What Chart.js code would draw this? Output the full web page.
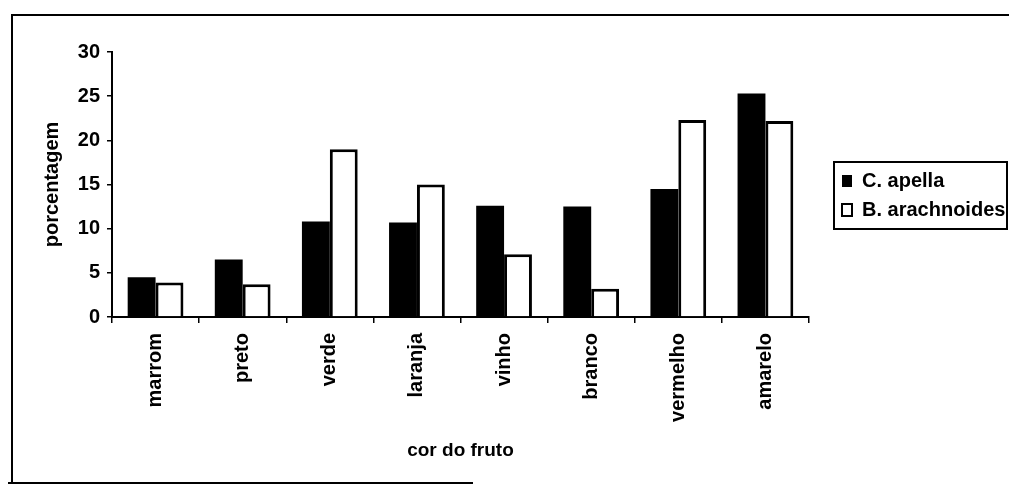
<!DOCTYPE html>
<html>
<head>
<meta charset="utf-8">
<script src="https://cdn.jsdelivr.net/npm/chart.js@4/dist/chart.umd.min.js"></script>
<style>
  html, body { margin: 0; padding: 0; background: #fff; }
  #wrap { position: relative; width: 1009px; height: 490px; }
  #frame {
    position: absolute; left: 11px; top: 14px; width: 1000px; height: 468px;
    border-left: 2px solid #000; border-top: 2px solid #000;
  }
  #frameBottom {
    position: absolute; left: 8px; top: 482px; width: 465px; height: 0;
    border-top: 2px solid #000;
  }
  canvas { position: absolute; left: 0; top: 0; }
</style>
</head>
<body>
<div id="wrap">
  <div id="frame"></div>
  <div id="frameBottom"></div>
  <canvas id="chart" width="1009" height="490"></canvas>
</div>
<script>
const categories = ["marrom", "preto", "verde", "laranja", "vinho", "branco", "vermelho", "amarelo"];
const apella = [4.5, 6.5, 10.8, 10.7, 12.6, 12.5, 14.5, 25.3];
const arachnoides = [3.9, 3.7, 19.0, 15.0, 7.1, 3.2, 22.3, 22.2];
const yTicks = [0, 5, 10, 15, 20, 25, 30];

const FONT = "'Liberation Sans', Arial, sans-serif";
const font = { family: FONT, size: 20, weight: "bold" };

// legend width is needed to put the right edge of the plot where the reference has it
const mctx = document.createElement("canvas").getContext("2d");
mctx.font = "bold 20px " + FONT;
const legendPad = 9;
const legendWidth = legendPad * 2 + 10 + 10 + mctx.measureText("B. arachnoides").width;
const plotRight = 810;

const legendFrame = {
  id: "legendFrame",
  beforeDraw(chart) {
    const lg = chart.legend;
    const w = lg.width;
    lg.left = chart.chartArea.right + 24;
    lg.right = lg.left + w;
    lg.top = 162;
  },
  afterDraw(chart) {
    const lg = chart.legend;
    const ctx = chart.ctx;
    const h = lg.columnSizes[0].height + legendPad;
    ctx.save();
    ctx.strokeStyle = "#000";
    ctx.lineWidth = 2;
    ctx.strokeRect(lg.left + 1, lg.top, chart.width - lg.left - 3, h);
    ctx.restore();
  }
};

new Chart(document.getElementById("chart"), {
  type: "bar",
  data: {
    labels: categories,
    datasets: [
      {
        label: "C. apella",
        data: apella,
        backgroundColor: "#000",
        borderColor: "#000",
        borderWidth: 0
      },
      {
        label: "B. arachnoides",
        data: arachnoides,
        backgroundColor: "#fff",
        borderColor: "#000",
        borderWidth: 3
      }
    ]
  },
  options: {
    animation: false,
    responsive: false,
    categoryPercentage: 0.64,
    barPercentage: 1.0,
    layout: {
      padding: { left: 36, top: 52, right: Math.max(0, 1009 - plotRight - legendWidth), bottom: 24 }
    },
    plugins: {
      tooltip: { enabled: false },
      legend: {
        position: "right",
        align: "start",
        labels: {
          color: "#000",
          font,
          boxWidth: 10,
          boxHeight: 12,
          padding: legendPad,
          generateLabels(chart) {
            return Chart.defaults.plugins.legend.labels.generateLabels(chart)
              .map(l => ({ ...l, lineWidth: Math.min(l.lineWidth, 2) }));
          }
        }
      }
    },
    scales: {
      x: {
        afterFit(scale) { scale.height = 149; },
        border: { color: "#000", width: 2 },
        grid: {
          offset: true,
          drawOnChartArea: false,
          drawTicks: true,
          tickLength: 6,
          color: "#000",
          lineWidth: 1.5
        },
        ticks: {
          color: "#000",
          font,
          minRotation: 90,
          maxRotation: 90,
          padding: 10
        },
        title: {
          display: true,
          text: "cor do fruto",
          color: "#000",
          font: { family: FONT, size: 19, weight: "bold" }
        }
      },
      y: {
        min: 0,
        max: 30,
        afterFit(scale) { scale.width = 76; },
        afterBuildTicks(scale) { scale.ticks = yTicks.map(v => ({ value: v })); },
        border: { color: "#000", width: 2 },
        grid: {
          drawOnChartArea: false,
          drawTicks: true,
          tickLength: 5,
          color: "#000",
          lineWidth: 1.5
        },
        ticks: {
          color: "#000",
          font,
          padding: 7
        },
        title: {
          display: true,
          text: "porcentagem",
          color: "#000",
          font
        }
      }
    }
  },
  plugins: [legendFrame]
});
</script>
</body>
</html>
